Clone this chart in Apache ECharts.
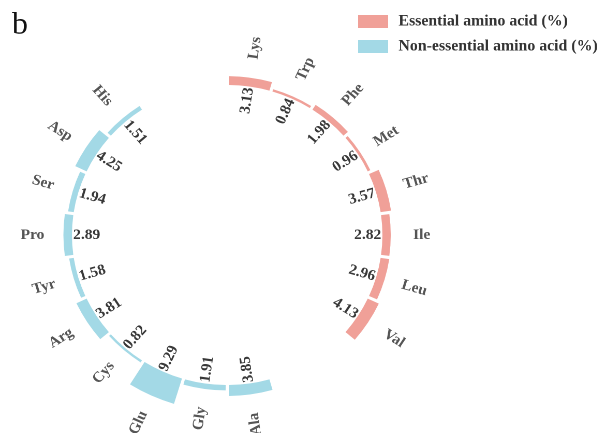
<!DOCTYPE html>
<html>
<head>
<meta charset="utf-8">
<script src="https://cdn.jsdelivr.net/npm/echarts@6/dist/echarts.min.js"></script>
<style>
  html, body { margin: 0; padding: 0; background: #fff; overflow: hidden; height: 433px; }
  /* the figure is slightly wider than it is tall: stretch the drawing horizontally;
     the canvas runs past the bottom edge so the lowest names are cut by the page, not moved */
  #chart { width: 582px; height: 480px; transform: scaleX(1.035); transform-origin: 0 0; }
</style>
</head>
<body>
<div id="chart"></div>
<script>
// Amino acid content (%), drawn clockwise from 12 o'clock
const essentialNames = ['Lys', 'Trp', 'Phe', 'Met', 'Thr', 'Ile', 'Leu', 'Val'];
const essentialValues = [3.13, 0.84, 1.98, 0.96, 3.57, 2.82, 2.96, 4.13];
const nonEssentialNames = ['Ala', 'Gly', 'Glu', 'Cys', 'Arg', 'Tyr', 'Pro', 'Ser', 'Asp', 'His'];
const nonEssentialValues = [3.85, 1.91, 9.29, 0.82, 3.81, 1.58, 2.89, 1.94, 4.25, 1.51];
const seriesNames = ['Essential amino acid (%)', 'Non-essential amino acid (%)'];
const gapA = ['gap1', 'gap2'];
const gapB = ['gap3', 'gap4'];

const categories = [].concat(essentialNames, gapA, nonEssentialNames, gapB);
const allNames = essentialNames.concat(nonEssentialNames);
const allValues = essentialValues.concat(nonEssentialValues);
const blank = n => new Array(n).fill('-');

const essentialData = [].concat(essentialValues, blank(gapA.length + nonEssentialNames.length + gapB.length));
const nonEssentialData = [].concat(blank(essentialNames.length + gapA.length), nonEssentialValues, blank(gapB.length));

// label placement, in radius-axis units measured from the ring's base (0)
const VALUE_LABEL_AT = -5.4;   // value text sits inside the ring
const NAME_OFFSET = 10.5;      // name text sits this far beyond the end of its bar

// text runs along the radius; on the left half it is flipped to stay readable.
// sector labels take their per-item rotation in radians
function radialRotate(i) {
  const theta = (i + 0.5) * 360 / categories.length;
  const deg = theta < 150 ? 90 - theta : 270 - theta;
  return deg * Math.PI / 180;
}

// invisible carrier bars from 0, whose middle lands on the label radius
function carrier(atOf, textOf) {
  return categories.map((c, i) => {
    const k = allNames.indexOf(c);
    if (k < 0) return '-';
    return { value: atOf(k) * 2, label: { rotate: radialRotate(i), formatter: textOf(k) } };
  });
}
const valueCarrier = carrier(() => VALUE_LABEL_AT, k => allValues[k].toFixed(2));
const nameCarrier = carrier(k => allValues[k] + NAME_OFFSET, k => allNames[k]);

const FONT = '"Liberation Serif", "Times New Roman", serif';
const barCommon = {
  type: 'bar', coordinateSystem: 'polar', barGap: '-100%', barCategoryGap: '7%'
};

const chart = echarts.init(document.getElementById('chart'), null, { renderer: 'canvas', devicePixelRatio: 2 });
chart.setOption({
  animation: false,
  backgroundColor: '#fff',
  graphic: [{
    type: 'text', left: 11.5, top: 10,
    style: { text: 'b', font: '31px "Liberation Serif", serif', fill: '#111' }
  }],
  legend: {
    data: seriesNames,
    orient: 'vertical',
    left: 341,
    top: 9,
    itemWidth: 29,
    itemHeight: 13,
    itemGap: 10,
    icon: 'rect',
    textStyle: {
      fontFamily: FONT, fontWeight: 'bold', fontSize: 15.3, color: '#333',
      padding: [0, 0, 0, 5]
    }
  },
  polar: { center: [219.5, 235], radius: [121.5, 264] },
  angleAxis: {
    type: 'category',
    data: categories,
    startAngle: 90,
    clockwise: true,
    axisLine: { show: false },
    axisTick: { show: false },
    axisLabel: { show: false },
    splitLine: { show: false }
  },
  radiusAxis: {
    type: 'value', min: -10, max: 40,
    axisLine: { show: false }, axisTick: { show: false },
    axisLabel: { show: false }, splitLine: { show: false }
  },
  series: [
    Object.assign({}, barCommon, {
      name: seriesNames[0], data: essentialData,
      itemStyle: { color: '#F0A098' }
    }),
    Object.assign({}, barCommon, {
      name: seriesNames[1], data: nonEssentialData,
      itemStyle: { color: '#A3D9E6' }
    }),
    Object.assign({}, barCommon, {
      name: 'values', data: valueCarrier, silent: true, z: 3,
      itemStyle: { color: 'rgba(0,0,0,0)' },
      label: {
        show: true, position: 'middle',
        color: '#383838', fontFamily: FONT, fontWeight: 'bold', fontSize: 15
      }
    }),
    Object.assign({}, barCommon, {
      name: 'names', data: nameCarrier, silent: true, z: 3,
      itemStyle: { color: 'rgba(0,0,0,0)' },
      label: {
        show: true, position: 'middle',
        color: '#555', fontFamily: FONT, fontWeight: 'bold', fontSize: 15
      }
    })
  ]
});
</script>
</body>
</html>
